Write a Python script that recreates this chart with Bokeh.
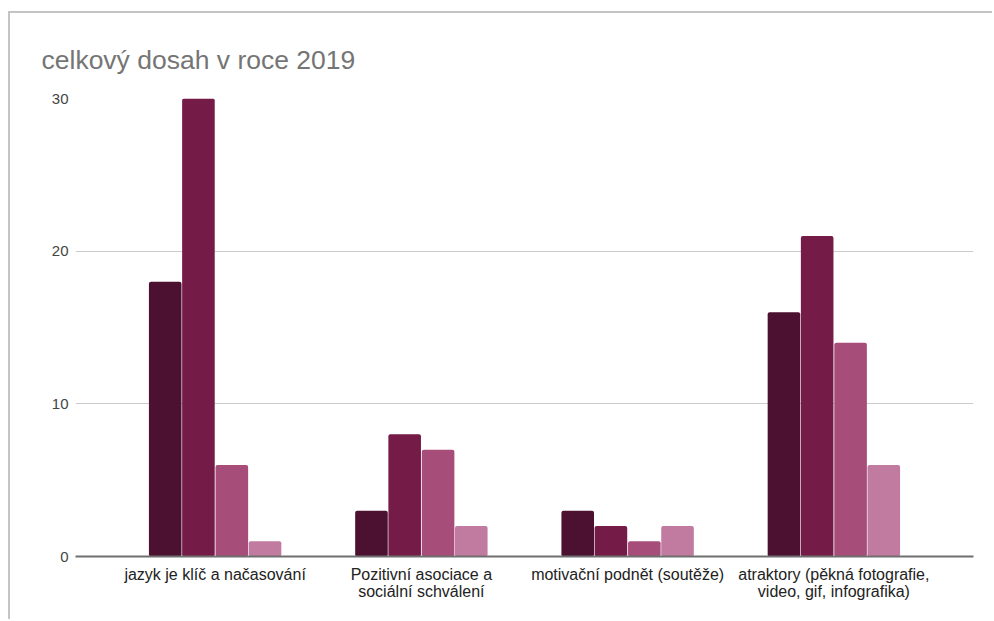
from bokeh.plotting import figure
from bokeh.models import FactorRange, Range1d, ColumnDataSource, FixedTicker
from bokeh.transform import dodge
from bokeh.embed import file_html
from bokeh.resources import INLINE

title_text = "celkový dosah v roce 2019"
categories = ["jazyk je klíč a načasování",
              "Pozitivní asociace a\nsociální schválení",
              "motivační podnět (soutěže)",
              "atraktory (pěkná fotografie,\nvideo, gif, infografika)"]
series1 = [18, 3, 3, 16]
series2 = [30, 8, 2, 21]
series3 = [6, 7, 1, 14]
series4 = [1, 2, 2, 6]
y_ticks = [0, 10, 20, 30]

colors = ["#4c1130", "#741b47", "#a64d79", "#c27ba0"]
offsets = [-0.242, -0.081, 0.081, 0.242]

src = ColumnDataSource(dict(cat=categories, s1=series1, s2=series2, s3=series3, s4=series4))

p = figure(width=984, height=608,
           x_range=FactorRange(*categories, range_padding=0.0885),
           y_range=Range1d(0, 30),
           output_backend="svg", toolbar_location=None,
           min_border_left=65, min_border_right=21,
           min_border_top=85, min_border_bottom=65)
p.margin = (11, 0, 0, 8)
p.styles = {"border-left": "2px solid #c4c4c4", "border-top": "2px solid #c4c4c4"}

for col, c, off in zip(["s1", "s2", "s3", "s4"], colors, offsets):
    p.vbar(x=dodge("cat", off, range=p.x_range), top=col, width=0.158, bottom=0,
           source=src, fill_color=c, line_color=None, border_radius=2)

p.title.text = title_text
p.title.text_font = "Liberation Sans"
p.title.text_font_size = "26.5px"
p.title.text_font_style = "normal"
p.title.text_color = "#757575"
p.title.offset = -34
p.title.standoff = 47

p.yaxis.ticker = FixedTicker(ticks=y_ticks)
p.yaxis.axis_line_color = None
p.yaxis.major_tick_line_color = None
p.yaxis.minor_tick_line_color = None
p.yaxis.major_label_text_font = "Liberation Sans"
p.yaxis.major_label_text_font_size = "15px"
p.yaxis.major_label_text_color = "#444444"
p.yaxis.major_label_standoff = 1

p.xaxis.axis_line_color = "#6f6f6f"
p.xaxis.axis_line_width = 2
p.xaxis.major_tick_line_color = None
p.xaxis.minor_tick_line_color = None
p.xaxis.major_label_text_font = "Liberation Sans"
p.xaxis.major_label_text_font_size = "16px"
p.xaxis.major_label_text_color = "#222222"
p.xaxis.major_label_text_line_height = 1.0
p.xaxis.major_label_standoff = 3

p.xgrid.grid_line_color = None
p.ygrid.grid_line_color = "#cccccc"
p.ygrid.grid_line_width = 1
p.outline_line_color = None

open("out.html", "w").write(file_html(p, INLINE))
